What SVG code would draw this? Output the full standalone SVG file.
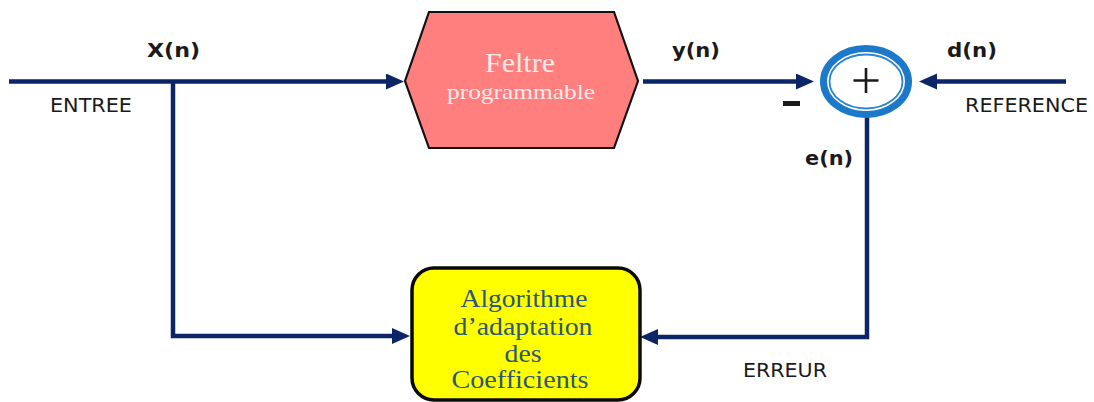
<svg xmlns="http://www.w3.org/2000/svg" width="1094" height="402" viewBox="0 0 1094 402">
  <style>
    .wire { fill: none; stroke: #0c2566; stroke-width: 4.5; stroke-linejoin: miter; }
    .sig { font-family: "DejaVu Sans", "Liberation Sans", sans-serif; font-weight: bold; font-size: 19px; fill: #1a1a1a; }
    .lbl { font-family: "DejaVu Sans", "Liberation Sans", sans-serif; font-size: 19px; fill: #1a1a1a; }
    .serif { font-family: "Liberation Serif", "DejaVu Serif", serif; text-anchor: middle; }
    .algo { font-size: 25px; fill: #2e5676; }
  </style>
  <defs>
    <marker id="arrow" markerUnits="userSpaceOnUse" markerWidth="20" markerHeight="18" refX="2" refY="8" orient="auto">
      <path d="M0,0 L18,8 L0,16 z" fill="#0c2566"/>
    </marker>
  </defs>

  <!-- connectors -->
  <g id="connectors">
    <path class="wire" d="M9,81.5 H388" marker-end="url(#arrow)"/>
    <path class="wire" d="M173,81.5 V336 H394" marker-end="url(#arrow)"/>
    <path class="wire" d="M643,81.5 H798" marker-end="url(#arrow)"/>
    <path class="wire" d="M1066,81.5 H935" marker-end="url(#arrow)"/>
    <path class="wire" d="M867,117 V337 H656" marker-end="url(#arrow)"/>
  </g>

  <!-- programmable filter -->
  <g id="filtre">
    <polygon points="405,81 429,12 614,12 638,81 614,148 429,148" fill="#ff7f7f" stroke="#111" stroke-width="2.2" stroke-linejoin="miter"/>
    <text class="serif" x="520" y="72" font-size="28" fill="#fdeaea" textLength="70" lengthAdjust="spacingAndGlyphs">Feltre</text>
    <text class="serif" x="521" y="99" font-size="22" fill="#fdeaea" textLength="148" lengthAdjust="spacingAndGlyphs">programmable</text>
  </g>

  <!-- summing junction -->
  <g id="somme">
    <ellipse cx="866" cy="81.5" rx="42.5" ry="33" fill="#fff" stroke="#1c78c8" stroke-width="7"/>
    <ellipse cx="866" cy="81.5" rx="36.5" ry="27" fill="none" stroke="#2a84d0" stroke-width="1.8"/>
    <path d="M853.5,80.5 H878.5 M866,68 V93" stroke="#1a1a1a" stroke-width="2.6" fill="none"/>
  </g>

  <!-- adaptation algorithm -->
  <g id="algorithme">
    <rect x="412" y="268" width="228" height="132" rx="22" ry="22" fill="#ffff00" stroke="#0a0a0a" stroke-width="3.5"/>
    <text class="serif algo" x="524" y="307" textLength="127" lengthAdjust="spacingAndGlyphs">Algorithme</text>
    <text class="serif algo" x="523" y="335" textLength="139" lengthAdjust="spacingAndGlyphs">d’adaptation</text>
    <text class="serif algo" x="523" y="362" textLength="37" lengthAdjust="spacingAndGlyphs">des</text>
    <text class="serif algo" x="520" y="388" textLength="137" lengthAdjust="spacingAndGlyphs">Coefficients</text>
  </g>

  <!-- signal labels -->
  <g id="labels">
    <text class="sig" x="147" y="57" textLength="53" lengthAdjust="spacingAndGlyphs">X(n)</text>
    <text class="sig" x="672" y="57" textLength="48" lengthAdjust="spacingAndGlyphs">y(n)</text>
    <text class="sig" x="947" y="57" textLength="50" lengthAdjust="spacingAndGlyphs">d(n)</text>
    <text class="sig" x="805" y="165" textLength="48" lengthAdjust="spacingAndGlyphs">e(n)</text>
    <rect x="783" y="101" width="17" height="5" fill="#1a1a1a"/>
    <text class="lbl" x="50" y="112" textLength="82" lengthAdjust="spacingAndGlyphs">ENTREE</text>
    <text class="lbl" x="965" y="112" textLength="123" lengthAdjust="spacingAndGlyphs">REFERENCE</text>
    <text class="lbl" x="743" y="377" textLength="84" lengthAdjust="spacingAndGlyphs">ERREUR</text>
  </g>
</svg>
